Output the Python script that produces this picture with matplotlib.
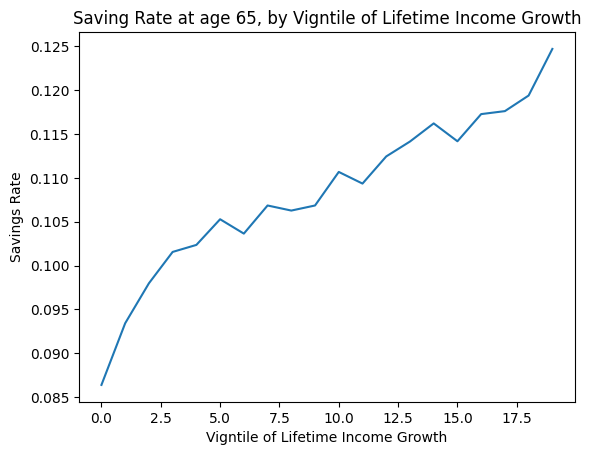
import numpy as np
import matplotlib
matplotlib.use("Agg")
import matplotlib.pyplot as plt

# savings rate by vigntile
vigntile = np.arange(20)
savings_rate = [0.08637, 0.09341, 0.09797, 0.10155, 0.10235, 0.10528, 0.10364,
                0.10685, 0.10627, 0.10685, 0.11068, 0.10935, 0.11245, 0.11415,
                0.11622, 0.11418, 0.11728, 0.11762, 0.11940, 0.12472]

fig = plt.figure(figsize=(6.4, 4.8), dpi=100)
ax = fig.add_subplot(111)
ax.plot(vigntile, savings_rate)
ax.set_title("Saving Rate at age 65, by Vigntile of Lifetime Income Growth")
ax.set_xlabel("Vigntile of Lifetime Income Growth")
ax.set_ylabel("Savings Rate")

fig.savefig("out.png", bbox_inches="tight")
